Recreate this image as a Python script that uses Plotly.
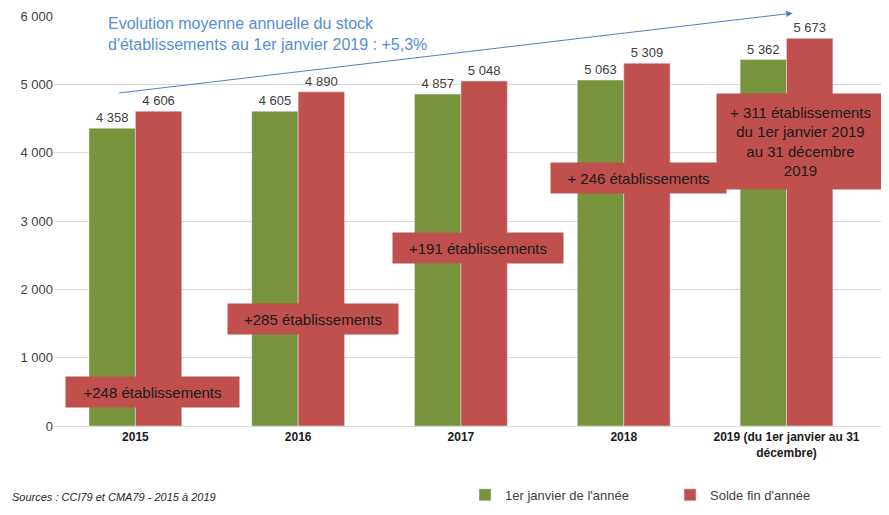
import plotly.graph_objects as go

# Data
annees = ["2015", "2016", "2017", "2018", "2019 (du 1er janvier au 31<br>décembre)"]
debut_annee = [4358, 4605, 4857, 5063, 5362]
fin_annee = [4606, 4890, 5048, 5309, 5673]
labels_solde = [
    "+248 établissements",
    "+285 établissements",
    "+191 établissements",
    "+ 246 établissements",
    "+ 311 établissements<br>du 1er janvier 2019<br>au 31 décembre<br>2019",
]
graduations = [0, 1000, 2000, 3000, 4000, 5000, 6000]

VERT = "#77933c"
ROUGE = "#c0504d"
FONT = "Liberation Sans"


def fmt(v):
    return f"{v:,}".replace(",", " ")


# non-breaking spaces widen the first legend entry (entrywidth pushed the margin)
fig = go.Figure()
fig.add_trace(go.Bar(
    x=annees, y=debut_annee, name="1er janvier de l'année" + "\u00a0" * 10,
    marker_color=VERT,
    text=[fmt(v) for v in debut_annee], textposition="outside",
    textfont=dict(size=13, color="#404040"), cliponaxis=False,
))
fig.add_trace(go.Bar(
    x=annees, y=fin_annee, name="Solde fin d'année",
    marker_color=ROUGE,
    text=[fmt(v) for v in fin_annee], textposition="outside",
    textfont=dict(size=13, color="#404040"), cliponaxis=False,
))

# red boxes with the yearly gain
box_y = [500, 1565, 2605, 3630, 4160]
box_shift = [17, 15, 17, 15, 14]
box_w = [173, 170, 170, 175, 167]
box_h = [30, 30, 30, 30, 95]
for i, txt in enumerate(labels_solde):
    fig.add_annotation(
        x=i, y=box_y[i], xref="x", yref="y", text=txt,
        showarrow=False, bgcolor=ROUGE, width=box_w[i], height=box_h[i],
        borderpad=0, xshift=box_shift[i],
        font=dict(size=15, color="#1a1a1a"),
    )

# growth arrow and comment
fig.add_annotation(
    x=0.889, y=1.007, xref="paper", yref="paper", text="",
    showarrow=True, ax=-675, ay=80, arrowhead=2, arrowsize=1.3,
    arrowwidth=1, arrowcolor="#4f81bd",
)
fig.add_annotation(
    x=0.063, y=1.008, xref="paper", yref="paper", xanchor="left", yanchor="top",
    text="Evolution moyenne annuelle du stock<br>d'établissements au 1er janvier 2019 : +5,3%",
    showarrow=False, align="left",
    font=dict(size=16, color="#558ed5"),
)
fig.add_annotation(
    x=-0.053, y=-0.173, xref="paper", yref="paper", xanchor="left", yanchor="middle",
    text="<i>Sources : CCI79 et CMA79 - 2015 à 2019</i>", showarrow=False,
    font=dict(size=11, color="#262626"),
)

# the page adds an 8px body margin, so the figure is drawn 8px smaller
fig.update_layout(
    width=881, height=507,
    margin=dict(l=46, r=4, t=8, b=89),
    paper_bgcolor="white", plot_bgcolor="white",
    barmode="group", bargap=0.43, bargroupgap=0,
    font=dict(family=FONT, color="#404040"),
    legend=dict(orientation="h", x=0.4946, y=-0.168, xanchor="left", yanchor="middle",
                font=dict(size=13, color="#404040")),
    xaxis=dict(
        type="category", tickangle=0, automargin=False,
        tickfont=dict(size=12, color="#1a1a1a", weight="bold"),
        showline=True, linecolor="#d9d9d9", ticks="",
    ),
    yaxis=dict(
        range=[0, 6000], tickmode="array", tickvals=graduations,
        ticktext=[fmt(v) for v in graduations], automargin=False,
        showgrid=True, gridcolor="#d9d9d9",
        zeroline=False, tickfont=dict(size=13, color="#404040"), ticks="",
    ),
)

fig.write_html("out.html")
